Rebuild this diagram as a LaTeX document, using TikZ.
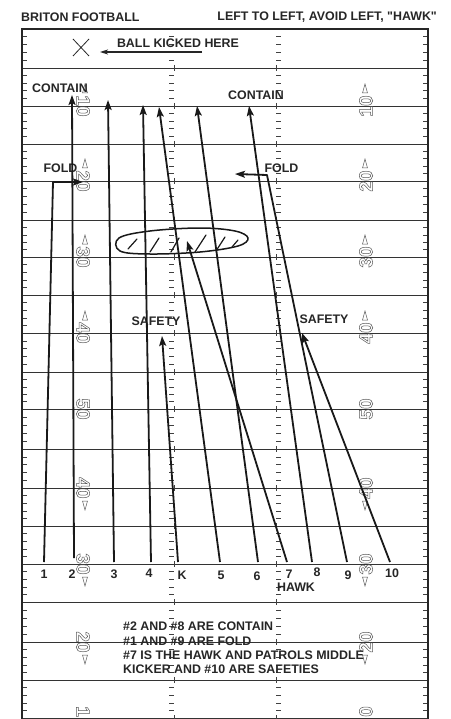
\documentclass[tikz,border=0pt]{standalone}
\usepackage{fontspec}
\setmainfont{Liberation Sans}[Ligatures=TeXOff]
\usetikzlibrary{arrows.meta,calc}
\newcommand\hollow[1]{\special{pdf:literal direct 1 Tr 0.5 w}#1\special{pdf:literal direct 0 Tr}}
\tikzset{
 yard/.style={line width=0.7pt, black!80},
 hashm/.style={line width=0.6pt, black!75},
 border/.style={line width=1.3pt, black!85},
 play/.style={line width=1.8pt, black!90, line join=round, -{Stealth[length=10pt,width=7pt,inset=2pt]}},
 lbl/.style={inner sep=0pt, font=\fontsize{12.4}{14}\selectfont\bfseries, text=black!85},
 ynum/.style={inner sep=0pt, font=\fontsize{19}{19}\selectfont\bfseries, text=black!65},
 ytri/.style={line width=0.5pt, black!65},
 hatch/.style={line width=1.2pt, black!90, line cap=round},
}
\begin{document}
\begin{tikzpicture}[x=1pt,y=-1pt]
\useasboundingbox (0,0) rectangle (450,719);
\fill[white] (0,0) rectangle (450,719);
\begin{scope}
\clip (0,0) rectangle (450,719);
% yard lines
\foreach \y in {68,106,144,181,220,257,295,333,372,409,449,488,526,564,602,642,680,718}
  \draw[yard] (22,\y) -- (428,\y);
% hash marks and side ticks
\foreach \a/\b in {29/68,68/106,106/144,144/181,181/220,220/257,257/295,295/333,333/372,372/409,409/449,449/488,488/526,526/564,564/602,602/642,642/680,680/718}{
  \foreach \k in {1,2,3,4}{
    \pgfmathsetmacro\yy{\a+\k*(\b-\a)/5}
    \draw[hashm] (22,\yy) -- (27,\yy);
    \draw[hashm] (169,\yy) -- (174,\yy);
    \draw[hashm] (276,\yy) -- (281,\yy);
    \draw[hashm] (423,\yy) -- (428,\yy);
  }
  \draw[hashm] (174,\b-3) -- (174,\b+3);
  \draw[hashm] (276,\b-3) -- (276,\b+3);
}
% yard numbers
\foreach \y/\t [count=\i] in {106/10,181/20,257/30,333/40,409/50,488/40,564/30,642/20}{
  \node[ynum, rotate=-90] (ln\i) at (83,\y) {\hollow{\t}};
  \node[ynum, rotate=90] (rn\i) at (366,\y) {\hollow{\t}};
}
\node[ynum, rotate=-90] (lnb) at (83,711.5) {\hollow{1}};
\node[ynum, rotate=90] (rnb) at (366,711.5) {\hollow{0}};
\foreach \y in {106,181,257,333}{
  \draw[ytri] (82.5,\y-13) -- (85,\y-22) -- (87.5,\y-13) -- cycle;
  \draw[ytri] (362.5,\y-13) -- (365,\y-22) -- (367.5,\y-13) -- cycle;
}
\foreach \y in {488,564,642}{
  \draw[ytri] (82.5,\y+13) -- (85,\y+22) -- (87.5,\y+13) -- cycle;
  \draw[ytri] (362.5,\y+13) -- (365,\y+22) -- (367.5,\y+13) -- cycle;
}
% field border
\draw[border] (22,719.5) -- (22,29) -- (428,29) -- (428,719.5);
\end{scope}

% header
\node[lbl, anchor=west] (title) at (21,17) {BRITON FOOTBALL};
\node[lbl, anchor=east] (play) at (437,17) {LEFT TO LEFT, AVOID LEFT, "HAWK"};

% ball kicked
\coordinate (xc) at (81,47.5);
\draw[line width=0.8pt, black!85] ($(xc)+(-8,-8.5)$) -- ($(xc)+(8,8.5)$);
\draw[line width=0.8pt, black!85] ($(xc)+(-8,8.5)$) -- ($(xc)+(8,-8.5)$);
\node[lbl] (ball) at (178,43) {BALL KICKED HERE};
\coordinate (ba) at (202,52);
\coordinate (bb) at (100,52);
\draw[line width=1.1pt, black!85, -{Stealth[length=8pt,width=5pt,inset=2pt]}] (ba) -- (bb);

% labels
\node[lbl] (cl) at (60,88) {CONTAIN};
\node[lbl] (cr) at (256,95) {CONTAIN};
\node[lbl] (fl) at (60.5,168) {FOLD};
\node[lbl] (fr) at (281.5,168) {FOLD};
\node[lbl] (sl) at (156,321) {SAFETY};
\node[lbl] (sr) at (324,319) {SAFETY};

% ellipse zone
\draw[line width=1.5pt, black!90] plot[smooth cycle, tension=0.6] coordinates {(119,238) (150,231) (200,228) (235,231) (248,238) (238,246) (200,252) (150,254) (120,251)};
\draw[hatch] (128,249) -- (137,239);
\draw[hatch] (150,252) -- (159,238);
\draw[hatch] (171,252) -- (179,238);
\draw[hatch] (195,252) -- (206,235);
\draw[hatch] (216,251) -- (225,237);
\draw[hatch] (232,247) -- (238,240);

% player numbers
\node[lbl] (n1) at (44,574) {1};
\node[lbl] (n2) at (72,574) {2};
\node[lbl] (n3) at (114,574) {3};
\node[lbl] (n4) at (149,573) {4};
\node[lbl] (nk) at (182,575) {K};
\node[lbl] (n5) at (221,575) {5};
\node[lbl] (n6) at (257,576) {6};
\node[lbl] (n7) at (289,574) {7};
\node[lbl] (n8) at (317,572) {8};
\node[lbl] (n9) at (348,575) {9};
\node[lbl] (n10) at (392,573) {10};
\node[lbl] (hawk) at (296,587) {HAWK};

% routes
\coordinate (s1) at (44,562);  \coordinate (c1) at (53,182);  \coordinate (e1) at (83,182);
\coordinate (s2) at (74,558);  \coordinate (e2) at (72,95);
\coordinate (s3) at (114,562); \coordinate (e3) at (108,100);
\coordinate (s4) at (151,562); \coordinate (e4) at (143,105);
\coordinate (sk) at (178,562); \coordinate (ek) at (162,336);
\coordinate (s5) at (220,562); \coordinate (e5) at (159,107);
\coordinate (s6) at (258,562); \coordinate (e6) at (197,106);
\coordinate (s7) at (287,562); \coordinate (e7) at (187,241);
\coordinate (s8) at (312,562); \coordinate (e8) at (249,106);
\coordinate (s9) at (347,562); \coordinate (c9) at (267,175); \coordinate (e9) at (235,174);
\coordinate (s10) at (390,562); \coordinate (e10) at (302,333);
\draw[play] (s1) -- (c1) -- (e1);
\draw[play] (s2) -- (e2);
\draw[play] (s3) -- (e3);
\draw[play] (s4) -- (e4);
\draw[play] (sk) -- (ek);
\draw[play] (s5) -- (e5);
\draw[play] (s6) -- (e6);
\draw[play] (s7) -- (e7);
\draw[play] (s8) -- (e8);
\draw[play] (s9) -- (c9) -- (e9);
\draw[play] (s10) -- (e10);

% notes
\node[lbl, anchor=west] (b1) at (123,626) {\#2 AND \#8 ARE CONTAIN};
\node[lbl, anchor=west] (b2) at (123,641) {\#1 AND \#9 ARE FOLD};
\node[lbl, anchor=west] (b3) at (123,655) {\#7 IS THE HAWK AND PATROLS MIDDLE};
\node[lbl, anchor=west] (b4) at (123,669.5) {KICKER AND \#10 ARE SAFETIES};
\end{tikzpicture}
\end{document}
